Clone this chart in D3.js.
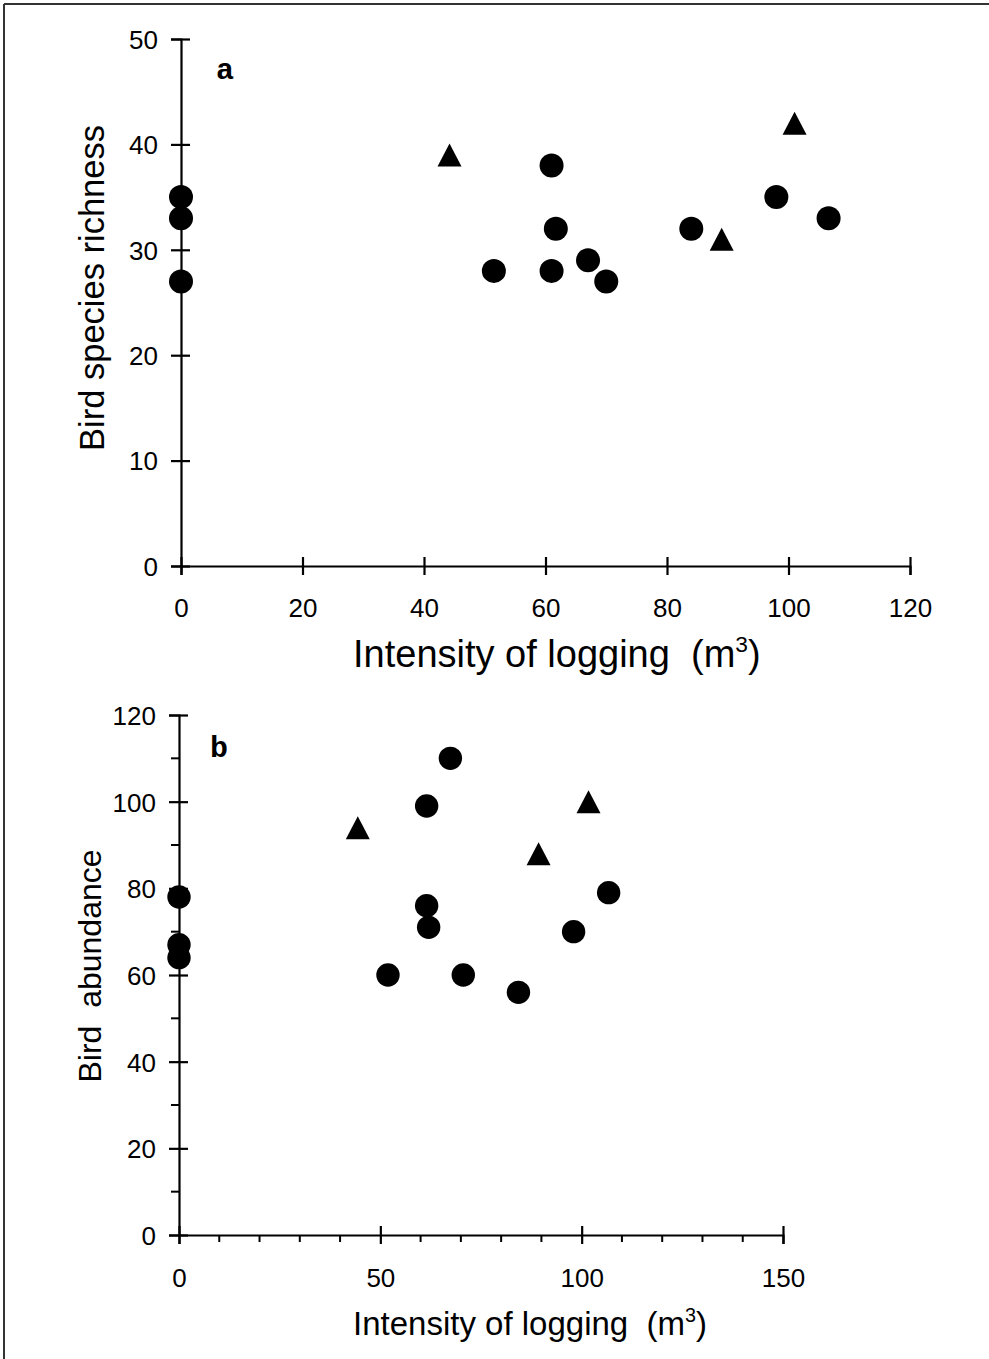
<!DOCTYPE html>
<html>
<head>
<meta charset="utf-8">
<script src="https://cdn.jsdelivr.net/npm/d3@7"></script>
<style>
  html, body { margin: 0; padding: 0; background: #fff; }
  svg { display: block; }
  text { font-family: "Liberation Sans", Arial, sans-serif; fill: #000; }
</style>
</head>
<body>
<svg id="chart" width="989" height="1359"></svg>
<script>
// ---------- Data ----------
// Panel a: bird species richness vs logging intensity
const richCircleX = [0, 0, 0, 51.5, 61, 61.7, 61, 67, 70, 84, 98, 106.6];
const richCircleY = [35, 33, 27, 28, 38, 32, 28, 29, 27, 32, 35, 33];
const richTriX = [44.2, 89, 101];
const richTriY = [39, 31, 42];

// Panel b: bird abundance vs logging intensity
const abunCircleX = [0, 0, 0, 51.9, 61.5, 61.5, 62, 67.4, 70.6, 84.3, 98, 106.7];
const abunCircleY = [78, 67, 64, 60, 99, 76, 71, 110, 60, 56, 70, 79];
const abunTriX = [44.4, 89.3, 101.7];
const abunTriY = [94, 88, 100];

// Tick values
const aXTicks = [0, 20, 40, 60, 80, 100, 120];
const aYTicks = [0, 10, 20, 30, 40, 50];
const bXTicks = [0, 50, 100, 150];
const bXMinor = [10, 20, 30, 40, 60, 70, 80, 90, 110, 120, 130, 140];
const bYTicks = [0, 20, 40, 60, 80, 100, 120];
const bYMinor = [10, 30, 50, 70, 90, 110];

// ---------- Drawing ----------
const svg = d3.select("#chart");

// page frame (top and left edges)
svg.append("line").attr("x1", 4).attr("y1", 4).attr("x2", 989).attr("y2", 4)
  .attr("stroke", "#333").attr("stroke-width", 2);
svg.append("line").attr("x1", 4).attr("y1", 4).attr("x2", 4).attr("y2", 1359)
  .attr("stroke", "#333").attr("stroke-width", 2);

function triPath(cx, cy) {
  const p = d3.path();
  p.moveTo(cx, cy - 11.5);
  p.lineTo(cx + 12, cy + 11.5);
  p.lineTo(cx - 12, cy + 11.5);
  p.closePath();
  return p.toString();
}

function panel(cfg) {
  const g = svg.append("g");
  const x = d3.scaleLinear().domain(cfg.xDomain).range(cfg.xRange);
  const y = d3.scaleLinear().domain(cfg.yDomain).range(cfg.yRange);

  // x axis
  const xa = g.append("g").attr("transform", `translate(0,${cfg.yRange[0]})`)
    .call(d3.axisBottom(x).tickValues(cfg.xTicks).tickSize(9).tickPadding(0).tickFormat(d3.format("d")));
  xa.select(".domain").attr("stroke", "#000").attr("stroke-width", 2.2);
  xa.selectAll(".tick line").attr("y1", -9).attr("y2", 9).attr("stroke", "#000").attr("stroke-width", 2.2);
  xa.selectAll(".tick text").attr("y", cfg.xLabelDy).attr("dy", 0)
    .style("font-size", cfg.tickFont + "px").attr("fill", "#000");

  // y axis
  const ya = g.append("g").attr("transform", `translate(${cfg.xRange[0]},0)`)
    .call(d3.axisLeft(y).tickValues(cfg.yTicks).tickSize(10).tickPadding(0).tickFormat(d3.format("d")));
  ya.select(".domain").attr("stroke", "#000").attr("stroke-width", 2.2);
  ya.selectAll(".tick line").attr("x1", -10).attr("x2", 9).attr("stroke", "#000").attr("stroke-width", 2.2);
  ya.selectAll(".tick text").attr("x", -23).attr("dy", "0.36em")
    .style("font-size", cfg.tickFont + "px").attr("fill", "#000");

  // minor ticks
  if (cfg.xMinor) {
    g.append("g").selectAll("line").data(cfg.xMinor).join("line")
      .attr("x1", d => x(d)).attr("x2", d => x(d))
      .attr("y1", cfg.yRange[0]).attr("y2", cfg.yRange[0] + 7)
      .attr("stroke", "#000").attr("stroke-width", 2);
  }
  if (cfg.yMinor) {
    g.append("g").selectAll("line").data(cfg.yMinor).join("line")
      .attr("x1", cfg.xRange[0] - 8).attr("x2", cfg.xRange[0])
      .attr("y1", d => y(d)).attr("y2", d => y(d))
      .attr("stroke", "#000").attr("stroke-width", 2);
  }

  // markers
  g.append("g").selectAll("circle").data(cfg.cx.map((v, i) => [v, cfg.cy[i]])).join("circle")
    .attr("cx", d => x(d[0])).attr("cy", d => y(d[1])).attr("r", cfg.r).attr("fill", "#000");
  g.append("g").selectAll("path").data(cfg.tx.map((v, i) => [v, cfg.ty[i]])).join("path")
    .attr("d", d => triPath(x(d[0]), y(d[1]))).attr("fill", "#000");

  // panel letter
  g.append("text").attr("x", cfg.letterPos[0]).attr("y", cfg.letterPos[1])
    .style("font-family", "'Liberation Mono', 'Courier New', monospace")
    .style("font-weight", "bold").style("font-size", "30px").text(cfg.letter);

  // x title
  const xt = g.append("text").attr("x", cfg.xTitlePos[0]).attr("y", cfg.xTitlePos[1])
    .style("font-size", cfg.xTitleFont + "px");
  xt.append("tspan").text("Intensity of logging\u00a0\u00a0(m");
  xt.append("tspan").attr("dy", -cfg.xTitleFont * 0.4).style("font-size", (cfg.xTitleFont * 0.6) + "px").text("3");
  xt.append("tspan").attr("dy", cfg.xTitleFont * 0.4).text(")");

  // y title
  g.append("text")
    .attr("transform", `translate(${cfg.yTitlePos[0]},${cfg.yTitlePos[1]}) rotate(-90)`)
    .attr("text-anchor", "middle").style("font-size", cfg.yTitleFont + "px")
    .text(cfg.yTitle);
}

panel({
  xDomain: [0, 120], xRange: [181, 910],
  yDomain: [0, 50], yRange: [566, 39],
  xTicks: aXTicks, yTicks: aYTicks,
  tickFont: 26, xLabelDy: 51,
  cx: richCircleX, cy: richCircleY, tx: richTriX, ty: richTriY, r: 12,
  letter: "a", letterPos: [216, 79],
  xTitlePos: [353, 667], xTitleFont: 38,
  yTitlePos: [104, 288], yTitleFont: 34.5, yTitle: "Bird species richness"
});

panel({
  xDomain: [0, 150], xRange: [179, 783],
  yDomain: [0, 120], yRange: [1235, 715],
  xTicks: bXTicks, yTicks: bYTicks, xMinor: bXMinor, yMinor: bYMinor,
  tickFont: 26, xLabelDy: 52,
  cx: abunCircleX, cy: abunCircleY, tx: abunTriX, ty: abunTriY, r: 11.7,
  letter: "b", letterPos: [210, 757],
  xTitlePos: [353, 1335], xTitleFont: 33,
  yTitlePos: [101, 966], yTitleFont: 32, yTitle: "Bird\u00a0\u00a0abundance"
});
</script>
</body>
</html>
